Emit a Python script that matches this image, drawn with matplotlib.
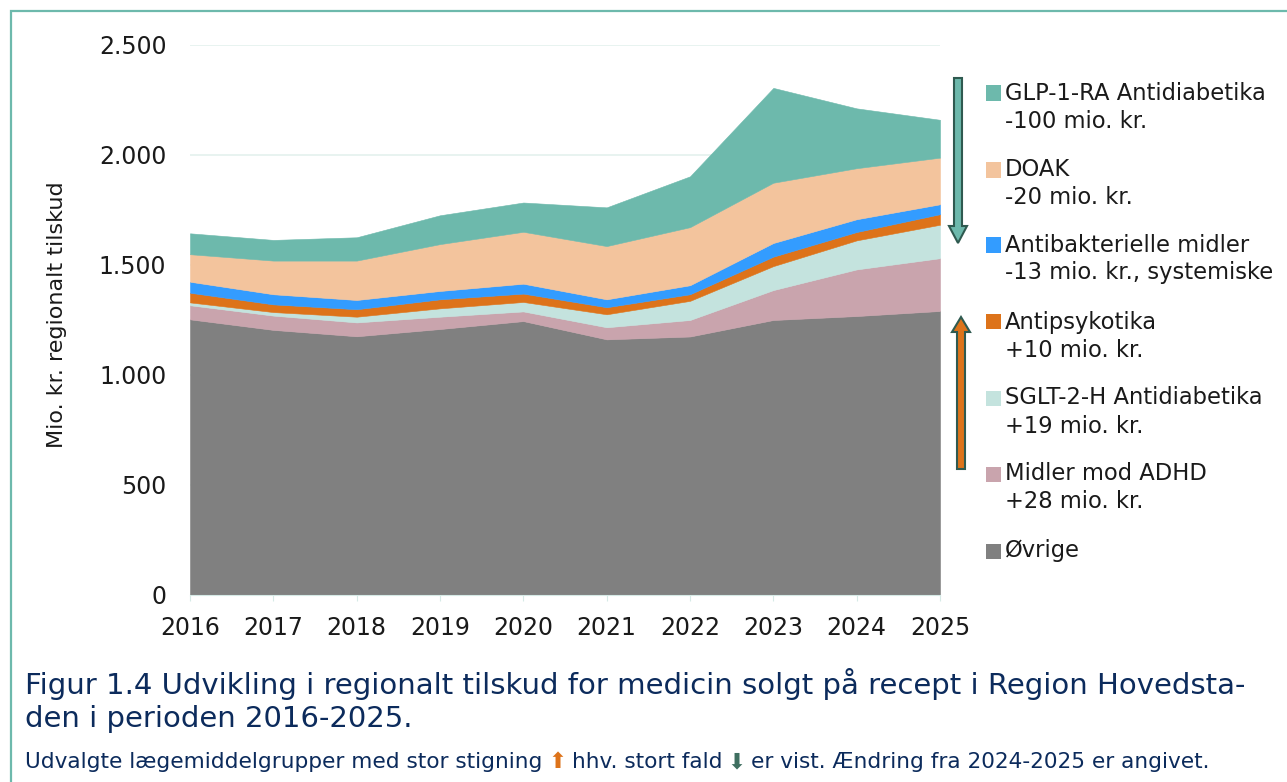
import matplotlib.pyplot as plt
from matplotlib.patches import Rectangle, FancyArrow
from matplotlib.ticker import FuncFormatter, MultipleLocator

# data (mio. kr.)
years = [2016, 2017, 2018, 2019, 2020, 2021, 2022, 2023, 2024, 2025]
ovrige = [1253, 1205, 1176, 1209, 1245, 1162, 1175, 1250, 1268, 1291]
adhd = [64, 65, 63, 56, 44, 55, 75, 136, 212, 240]
sglt2 = [13, 16, 26, 38, 43, 59, 87, 109, 132, 152]
antipsyk = [44, 35, 34, 41, 38, 32, 30, 43, 38, 48]
antibakt = [50, 46, 42, 38, 45, 36, 41, 62, 58, 45]
doak = [125, 153, 179, 213, 236, 242, 264, 274, 232, 212]
glp1 = [95, 94, 106, 131, 133, 176, 231, 431, 272, 172]

names = ["GLP-1-RA Antidiabetika", "DOAK", "Antibakterielle midler", "Antipsykotika",
         "SGLT-2-H Antidiabetika", "Midler mod ADHD", "Øvrige"]
changes = ["-100 mio. kr.", "-20 mio. kr.", "-13 mio. kr., systemiske", "+10 mio. kr.",
           "+19 mio. kr.", "+28 mio. kr.", ""]
colors = ["#6db9ac", "#f3c49d", "#339cff", "#dd731a", "#c4e3de", "#c9a4ad", "#808080"]

W, H = 1287, 782
fig = plt.figure(figsize=(W / 100, H / 100), dpi=100)

def fx(px):
    return px / W

def fy(py):
    return 1 - py / H

def inch(px, py):
    return px / 100, (H - py) / 100

ax = fig.add_axes([fx(190), fy(595), 750 / W, 550 / H])

# stacked areas, bottom to top
series = [ovrige, adhd, sglt2, antipsyk, antibakt, doak, glp1]
polys = ax.stackplot(years, *series, colors=colors[::-1], linewidth=0)
for p in polys:
    p.set_edgecolor(p.get_facecolor())
    p.set_linewidth(0.4)

ax.set_xlim(2016, 2025)
ax.set_ylim(0, 2500)
ax.set_xticks(years)
ax.yaxis.set_major_locator(MultipleLocator(500))
ax.yaxis.set_major_formatter(FuncFormatter(lambda v, p: f"{int(v):,}".replace(",", ".")))
ax.grid(axis="y", color="#e4f1ee", linewidth=1.2)
ax.set_axisbelow(True)
for s in ["left", "top", "right"]:
    ax.spines[s].set_visible(False)
ax.spines["bottom"].set_color("#d6eae6")
ax.tick_params(axis="x", colors="#d6eae6", labelcolor="#1a1a1a", length=4, pad=11, labelsize=17)
ax.tick_params(axis="y", length=0, pad=17, labelsize=17, labelcolor="#1a1a1a")
ax.set_ylabel("Mio. kr. regionalt tilskud", fontsize=16, color="#1a1a1a")
ax.yaxis.set_label_coords((67 - 190) / 750, (595 - 315) / 550)

# legend drawn by hand, two lines per entry
top_y = [93, 170, 245, 322, 398, 474, 551]
for name, chg, col, yy in zip(names, changes, colors, top_y):
    x0, y0 = inch(986, yy + 7.5)
    fig.add_artist(Rectangle((x0, y0), 0.15, 0.15, facecolor=col, edgecolor="none",
                             transform=fig.dpi_scale_trans))
    fig.text(fx(1005), fy(yy), name, fontsize=16.3, va="center", ha="left", color="#1a1a1a")
    if chg:
        fig.text(fx(1005), fy(yy + 28), chg, fontsize=16.3, va="center", ha="left", color="#1a1a1a")

# arrows beside the legend
x, y = inch(958, 78)
fig.add_artist(FancyArrow(x, y, 0, -1.65, width=0.08, head_width=0.18, head_length=0.17,
                          length_includes_head=True, facecolor="#6db9ac", edgecolor="#2f5a50",
                          linewidth=1.5, transform=fig.dpi_scale_trans))
x, y = inch(961, 469)
fig.add_artist(FancyArrow(x, y, 0, 1.52, width=0.08, head_width=0.18, head_length=0.15,
                          length_includes_head=True, facecolor="#dd731a", edgecolor="#2f5a50",
                          linewidth=1.5, transform=fig.dpi_scale_trans))

# frame around the figure (continues past the right and bottom edges)
x, y = inch(10.5, 800)
fig.add_artist(Rectangle((x, y), 13.0, (800 - 11) / 100, fill=False, edgecolor="#6db9ac",
                         linewidth=1.6, transform=fig.dpi_scale_trans))

# captions
navy = "#0c2b5c"
fig.text(fx(25), fy(684), "Figur 1.4 Udvikling i regionalt tilskud for medicin solgt på recept i Region Hovedsta-",
         fontsize=21.0, color=navy, va="center", ha="left")
fig.text(fx(25), fy(719), "den i perioden 2016-2025.", fontsize=21.0, color=navy, va="center", ha="left")

t = fig.text(fx(25), fy(762), "Udvalgte lægemiddelgrupper med stor stigning", fontsize=15.6,
             color=navy, va="center", ha="left")
pieces = [("\u2b06", "#dd731a"), ("hhv. stort fald", navy), ("\u2b07", "#3f6f60"),
          ("er vist. Ændring fra 2024-2025 er angivet.", navy)]
for txt, col in pieces:
    t = ax.annotate(txt, xy=(1, 0), xycoords=t, xytext=(4, 0), textcoords="offset points",
                    fontsize=15.6, color=col, va="bottom", ha="left", annotation_clip=False)

fig.savefig("out.png", dpi=100)
